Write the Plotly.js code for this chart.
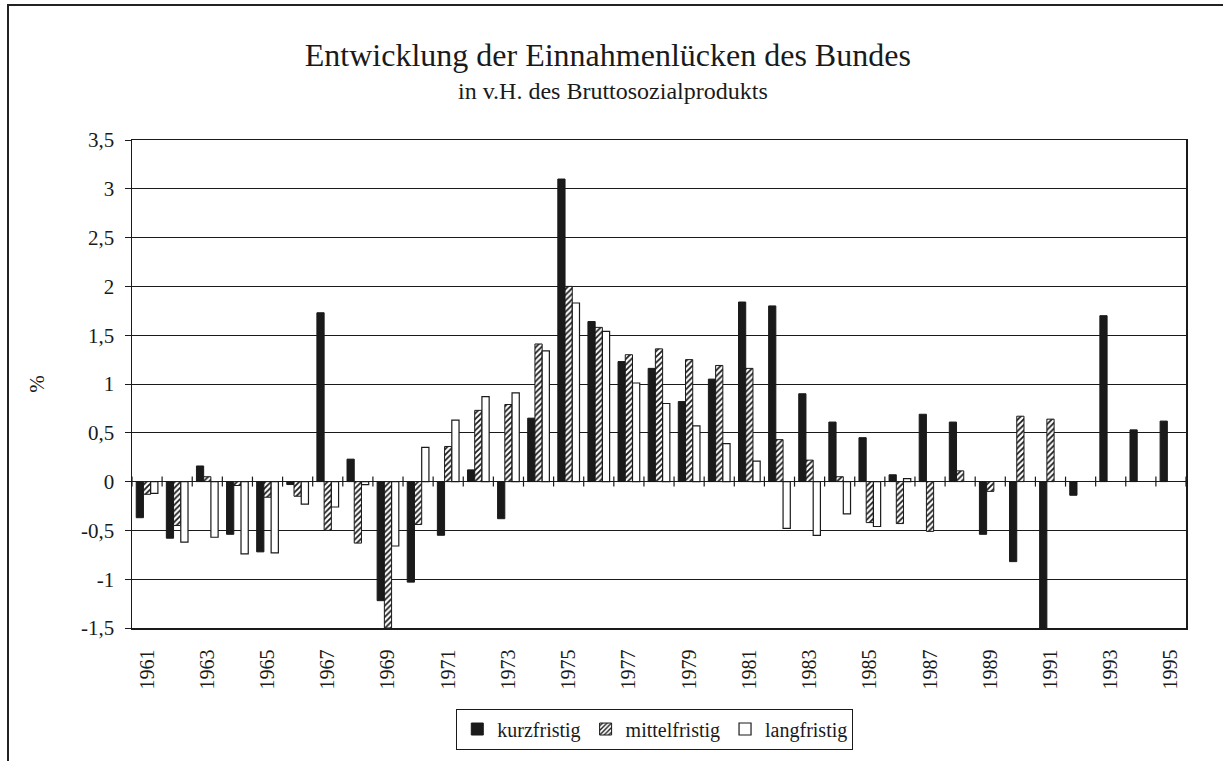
<!DOCTYPE html>
<html>
<head>
<meta charset="utf-8">
<script src="https://cdn.plot.ly/plotly-3.0.1.min.js"></script>
<style>
  html, body { margin: 0; padding: 0; background: #fff; }
  #chart { width: 1223px; height: 761px; position: absolute; left: 0; top: 0; }
  #frame { position: absolute; left: 7px; top: 4px; width: 1240px; height: 780px;
           border-left: 2px solid #222; border-top: 2px solid #222; pointer-events: none; }
</style>
</head>
<body>
<div id="chart"></div>
<div id="frame"></div>
<script>
// ---- Data ----
const years = ['1961','1962','1963','1964','1965','1966','1967','1968','1969','1970',
               '1971','1972','1973','1974','1975','1976','1977','1978','1979','1980',
               '1981','1982','1983','1984','1985','1986','1987','1988','1989','1990',
               '1991','1992','1993','1994','1995'];

const kurzfristig = [-0.37, -0.58, 0.16, -0.54, -0.72, -0.03, 1.73, 0.23, -1.22, -1.03,
                     -0.55, 0.12, -0.38, 0.65, 3.10, 1.64, 1.23, 1.16, 0.82, 1.05,
                     1.84, 1.80, 0.90, 0.61, 0.45, 0.07, 0.69, 0.61, -0.54, -0.82,
                     -1.50, -0.14, 1.70, 0.53, 0.62];

const mittelfristig = [-0.13, -0.45, 0.05, -0.04, -0.16, -0.15, -0.50, -0.63, -1.50, -0.44,
                       0.36, 0.73, 0.79, 1.41, 2.00, 1.58, 1.30, 1.36, 1.25, 1.19,
                       1.16, 0.43, 0.22, 0.05, -0.42, -0.43, -0.51, 0.11, -0.10, 0.67,
                       0.64, null, null, null, null];

const langfristig = [-0.12, -0.62, -0.57, -0.74, -0.73, -0.23, -0.26, -0.03, -0.66, 0.35,
                     0.63, 0.87, 0.91, 1.34, 1.83, 1.54, 1.01, 0.80, 0.57, 0.39,
                     0.21, -0.48, -0.55, -0.33, -0.46, 0.03, null, null, null, null,
                     null, null, null, null, null];

const tickYears = ['1961','1963','1965','1967','1969','1971','1973','1975','1977','1979',
                   '1981','1983','1985','1987','1989','1991','1993','1995'];

const yTickVals = [-1.5, -1, -0.5, 0, 0.5, 1, 1.5, 2, 2.5, 3, 3.5];
const yTickText = ['-1,5', '-1', '-0,5', '0', '0,5', '1', '1,5', '2', '2,5', '3', '3,5'];

const titleText = 'Entwicklung der Einnahmenlücken des Bundes';
const subtitleText = 'in v.H. des Bruttosozialprodukts';
const seriesNames = ['kurzfristig', 'mittelfristig', 'langfristig'];

// ---- Chart ----
const FONT = "'Liberation Serif', 'Times New Roman', Times, serif";
const INK = '#1a1a1a';

const traces = [
  {
    type: 'bar', name: seriesNames[0], x: years, y: kurzfristig,
    marker: { color: INK, line: { color: INK, width: 1 } },
    hoverinfo: 'x+y'
  },
  {
    type: 'bar', name: seriesNames[1], x: years, y: mittelfristig,
    marker: {
      color: '#ffffff',
      line: { color: INK, width: 1 },
      pattern: { shape: '/', fgcolor: INK, bgcolor: '#ffffff', size: 4, solidity: 0.45 }
    },
    hoverinfo: 'x+y'
  },
  {
    type: 'bar', name: seriesNames[2], x: years, y: langfristig,
    marker: { color: '#ffffff', line: { color: INK, width: 1.2 } },
    hoverinfo: 'x+y'
  }
];

// category-boundary tick marks crossing the zero line (axis decoration)
const boundaryTicks = [];
for (let i = 0; i <= years.length; i++) {
  boundaryTicks.push({
    type: 'line', layer: 'above', xref: 'x', yref: 'y',
    x0: i - 0.5, x1: i - 0.5,
    ysizemode: 'pixel', yanchor: 0, y0: -5, y1: 5,
    line: { color: INK, width: 1.2 }
  });
}

const layout = {
  width: 1223, height: 761,
  margin: { l: 132, r: 37, t: 140, b: 129 },
  paper_bgcolor: 'rgba(0,0,0,0)',
  plot_bgcolor: '#ffffff',
  font: { family: FONT, color: INK, size: 19 },
  barmode: 'group',
  bargap: 0.28,
  bargroupgap: 0,
  showlegend: true,
  shapes: boundaryTicks,
  title: {
    text: titleText,
    font: { family: FONT, size: 32, color: INK },
    xref: 'container', x: 0.497, xanchor: 'center',
    yref: 'container', y: 0.928, yanchor: 'middle'
  },
  annotations: [{
    text: subtitleText, showarrow: false,
    xref: 'paper', yref: 'paper', x: 0.456, y: 1.1,
    xanchor: 'center', yanchor: 'middle',
    font: { family: FONT, size: 24, color: INK }
  }],
  xaxis: {
    type: 'category',
    categoryorder: 'array', categoryarray: years,
    tickmode: 'array', tickvals: tickYears, ticktext: tickYears,
    tickangle: -90,
    ticks: '', ticklabelstandoff: 12,
    tickfont: { family: FONT, size: 20, color: INK },
    showgrid: false, zeroline: false,
    showline: true, mirror: true, linecolor: INK, linewidth: 1.5,
    range: [-0.5, years.length - 0.5],
    fixedrange: true
  },
  yaxis: {
    range: [yTickVals[0], yTickVals[yTickVals.length - 1]],
    tickmode: 'array', tickvals: yTickVals, ticktext: yTickText,
    ticks: 'outside', ticklen: 6, tickwidth: 1, tickcolor: INK,
    ticklabelstandoff: 6,
    tickfont: { family: FONT, size: 21, color: INK },
    showgrid: true, gridcolor: INK, gridwidth: 1,
    zeroline: true, zerolinecolor: INK, zerolinewidth: 1,
    showline: true, mirror: true, linecolor: INK, linewidth: 1.5,
    title: { text: '%', font: { family: FONT, size: 21, color: INK }, standoff: 30 },
    fixedrange: true
  },
  legend: {
    orientation: 'h',
    x: 0.496, xanchor: 'center',
    y: -0.165, yanchor: 'top',
    bordercolor: INK, borderwidth: 1,
    bgcolor: '#ffffff',
    font: { family: FONT, size: 20, color: INK },
    itemwidth: 30,
    traceorder: 'normal'
  }
};

Plotly.newPlot('chart', traces, layout, { staticPlot: true, displayModeBar: false });
</script>
</body>
</html>
